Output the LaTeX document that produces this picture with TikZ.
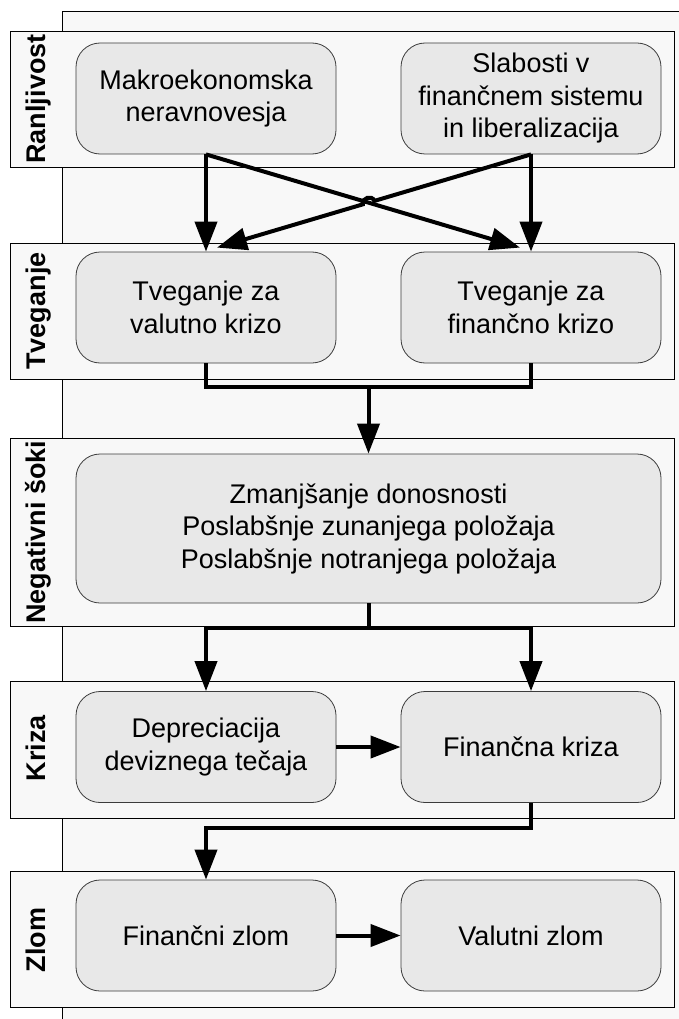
\documentclass[tikz,border=0pt]{standalone}
\usepackage{fontspec}
\setmainfont{Liberation Sans}
\usetikzlibrary{arrows.meta,calc}
\definecolor{bgc}{HTML}{F8F8F8}
\definecolor{nodec}{HTML}{E8E8E8}
\definecolor{nodeb}{HTML}{3C3C3C}
\begin{document}
\begin{tikzpicture}[x=1pt,y=-1pt,
  box/.style={draw=nodeb, fill=nodec, rounded corners=24pt, minimum width=260pt, minimum height=111pt, inner sep=0pt, align=center, font=\fontsize{27}{32.5}\selectfont, line width=0.8pt},
  lane/.style={draw=black, fill=bgc, line width=0.8pt},
  lanelabel/.style={rotate=90, anchor=base, font=\fontsize{27}{32}\selectfont\bfseries},
  conn/.style={line width=4pt, line join=miter},
  arr/.style={conn, -{Triangle[length=30pt,width=22pt]}}]
\useasboundingbox (0,0) rectangle (679,1019);
\clip (0,0) rectangle (679,1019);
\filldraw[fill=bgc, draw=black, line width=0.8pt] (62,11) rectangle (700,1040);
% lanes
\draw[lane] (10,31) rectangle (674.5,167);
\draw[lane] (10,243) rectangle (674.5,379);
\draw[lane] (10,438) rectangle (674.5,626);
\draw[lane] (10,681) rectangle (674.5,818);
\draw[lane] (10,871) rectangle (674.5,1007);
\node[lanelabel] (l1) at (45,99) {Ranljivost};
\node[lanelabel] (l2) at (45,311) {Tveganje};
\node[lanelabel] (l3) at (45,532) {Negativni šoki};
\node[lanelabel] (l4) at (45,748) {Kriza};
\node[lanelabel] (l5) at (45,940) {Zlom};
% nodes
\node[box] (m) at (206,98.5) {Makroekonomska\\neravnovesja};
\node[box] (s) at (531,98.5) {Slabosti v\\finančnem sistemu\\in liberalizacija};
\node[box] (tv) at (206,307.5) {Tveganje za\\valutno krizo};
\node[box] (tf) at (531,307.5) {Tveganje za\\finančno krizo};
\node[box, minimum width=585pt, minimum height=149pt] (big) at (368.5,528.5) {Zmanjšanje donosnosti\\Poslabšnje zunanjega položaja\\Poslabšnje notranjega položaja};
\node[box] (dep) at (206,747) {Depreciacija\\deviznega tečaja};
\node[box] (fk) at (531,747) {Finančna kriza};
\node[box] (fz) at (206,935.5) {Finančni zlom};
\node[box] (vz) at (531,935.5) {Valutni zlom};
% connectors
\draw[arr] (m.south) -- (tv.north);
\draw[arr] (s.south) -- (tf.north);
\coordinate (e1) at ($(tf.north)+(-11,-4)$);
\coordinate (e2) at ($(tv.north)+(11,-4)$);
\draw[arr] (m.south) -- (e1);
\coordinate (X) at (intersection of m.south--e1 and s.south--e2);
\coordinate (h1) at ($(X)!6pt!(s.south)$);
\coordinate (h2) at ($(X)!6pt!(e2)$);
\draw[arr] (s.south) -- (h1) to[bend right=90, looseness=1.4] (h2) -- (e2);
\coordinate (j1) at (368.5,387);
\draw[conn] (tv.south) |- (j1) -| (tf.south);
\draw[arr] (j1) -- (big.north);
\coordinate (j2) at (368.5,628);
\draw[conn] (big.south) -- (j2);
\draw[arr] (j2) -| (dep.north);
\draw[arr] (j2) -| (fk.north);
\draw[arr] (dep.east) -- (fk.west);
\draw[arr] (fk.south) -- ++(0,25) -| (fz.north);
\draw[arr] (fz.east) -- (vz.west);
\end{tikzpicture}
\end{document}
